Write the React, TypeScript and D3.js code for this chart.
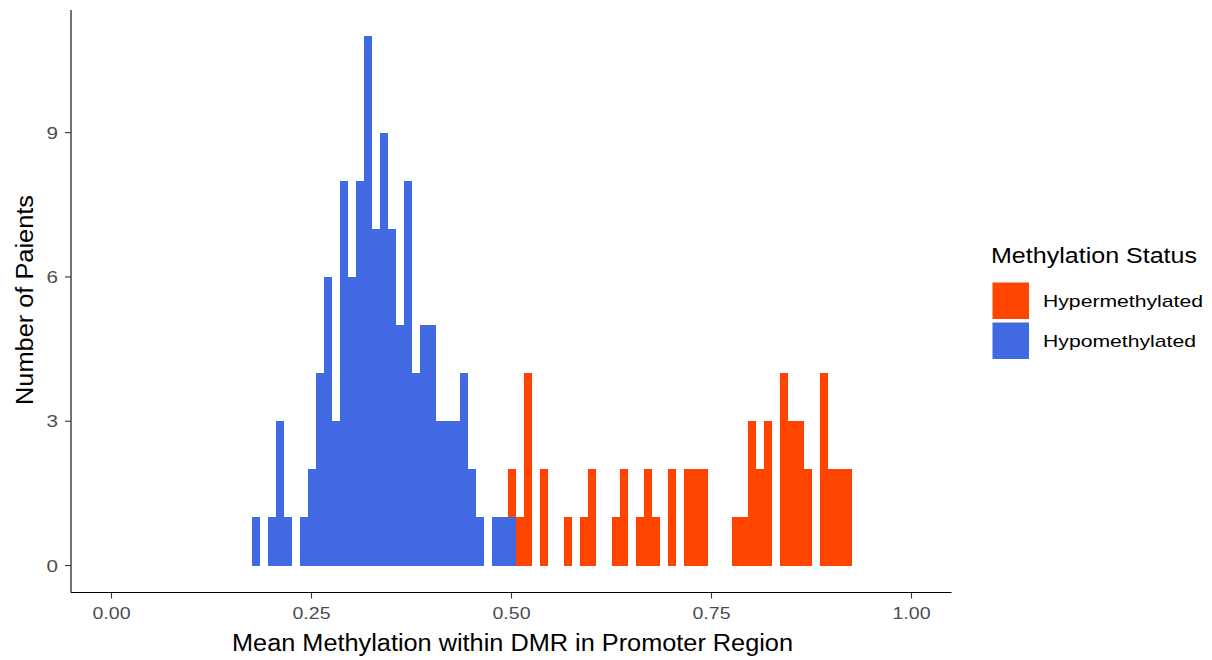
import React from "react";
import * as d3 from "d3";

// histogram bins (centre of each 0.01-wide bin) and counts
const hypoBins = [
  0.18, 0.2, 0.21, 0.22, 0.24, 0.25, 0.26, 0.27, 0.28, 0.29, 0.3, 0.31, 0.32,
  0.33, 0.34, 0.35, 0.36, 0.37, 0.38, 0.39, 0.4, 0.41, 0.42, 0.43, 0.44, 0.45,
  0.46, 0.48, 0.49, 0.5,
];
const hypoCounts = [
  1, 1, 3, 1, 1, 2, 4, 6, 3, 8, 6, 8, 11, 7, 9, 7, 5, 8, 4, 5, 5, 3, 3, 3, 4, 2,
  1, 1, 1, 1,
];
const hyperBins = [
  0.5, 0.51, 0.52, 0.54, 0.57, 0.59, 0.6, 0.63, 0.64, 0.66, 0.67, 0.68, 0.7,
  0.72, 0.73, 0.74, 0.78, 0.79, 0.8, 0.81, 0.82, 0.84, 0.85, 0.86, 0.87, 0.89,
  0.9, 0.91, 0.92,
];
const hyperCounts = [
  1, 1, 4, 2, 1, 1, 2, 1, 2, 1, 2, 1, 2, 2, 2, 2, 1, 1, 3, 2, 3, 4, 3, 3, 2, 4,
  2, 2, 2,
];
const binWidth = 0.01;

const xTicks = [0, 0.25, 0.5, 0.75, 1];
const xTickLabels = ["0.00", "0.25", "0.50", "0.75", "1.00"];
const yTicks = [0, 3, 6, 9];

const seriesKeys = ["Hypomethylated", "Hypermethylated"];
const colors: Record<string, string> = {
  Hypermethylated: "#FF4500",
  Hypomethylated: "#4169E1",
};
const legendOrder = ["Hypermethylated", "Hypomethylated"];

const font = "'Liberation Sans', Arial, sans-serif";

export default function App() {
  const width = 1212;
  const height = 660;
  const left = 71.5;
  const right = 951.5;
  const top = 10;
  const bottom = 592;

  const x = d3.scaleLinear().domain([-0.05, 1.05]).range([left, right]);
  const y = d3.scaleLinear().domain([-0.55, 11.55]).range([bottom, top]);

  // merge both series into one table keyed by bin, then stack
  const table = new Map<number, any>();
  const add = (bins: number[], counts: number[], key: string) => {
    bins.forEach((b, i) => {
      const k = Math.round(b * 100);
      if (!table.has(k))
        table.set(k, { bin: b, Hypomethylated: 0, Hypermethylated: 0 });
      table.get(k)[key] = counts[i];
    });
  };
  add(hypoBins, hypoCounts, "Hypomethylated");
  add(hyperBins, hyperCounts, "Hypermethylated");
  const rows = Array.from(table.values()).sort((a, b) => a.bin - b.bin);
  const stacked = d3.stack().keys(seriesKeys)(rows);

  return (
    <div style={{ position: "absolute", left: 0, top: 0 }}>
      <svg width={width} height={height} style={{ display: "block", background: "#fff" }}>
        {/* bars */}
        {stacked.map((s) => (
          <g key={s.key} fill={colors[s.key]} shapeRendering="crispEdges">
            {s
              .filter((d) => d[1] - d[0] > 0)
              .map((d, i) => (
                <rect
                  key={i}
                  x={x((d.data as any).bin - binWidth / 2)}
                  width={x(binWidth) - x(0)}
                  y={y(d[1])}
                  height={y(d[0]) - y(d[1])}
                />
              ))}
          </g>
        ))}

        {/* axes */}
        <line x1={left - 0.5} x2={left - 0.5} y1={top} y2={bottom + 0.5} stroke="#000" strokeWidth={1.1} />
        <line x1={left - 0.5} x2={right} y1={bottom + 0.5} y2={bottom + 0.5} stroke="#000" strokeWidth={1.1} />

        {xTicks.map((t, i) => (
          <g key={t}>
            <line x1={x(t)} x2={x(t)} y1={bottom + 0.5} y2={bottom + 6.5} stroke="#333" strokeWidth={1.1} />
            <text
              x={x(t)}
              y={619}
              textAnchor="middle"
              fontFamily={font}
              fontSize={17}
              fill="#4D4D4D"
              textLength={38}
              lengthAdjust="spacingAndGlyphs"
            >
              {xTickLabels[i]}
            </text>
          </g>
        ))}

        {yTicks.map((t) => (
          <g key={t}>
            <line x1={left - 6.5} x2={left - 0.5} y1={y(t)} y2={y(t)} stroke="#333" strokeWidth={1.1} />
            <text
              x={58}
              y={y(t)}
              dy="0.36em"
              textAnchor="end"
              fontFamily={font}
              fontSize={17}
              fill="#4D4D4D"
              textLength={11.5}
              lengthAdjust="spacingAndGlyphs"
            >
              {t}
            </text>
          </g>
        ))}

        {/* axis titles */}
        <text
          x={512.5}
          y={651}
          textAnchor="middle"
          fontFamily={font}
          fontSize={23}
          fill="#000"
          textLength={561}
          lengthAdjust="spacingAndGlyphs"
        >
          Mean Methylation within DMR in Promoter Region
        </text>
        <text
          transform={`translate(33, 300) rotate(-90)`}
          textAnchor="middle"
          fontFamily={font}
          fontSize={23}
          fill="#000"
          textLength={210}
          lengthAdjust="spacingAndGlyphs"
        >
          Number of Paients
        </text>

        {/* legend */}
        <text
          x={991}
          y={263}
          fontFamily={font}
          fontSize={22}
          fill="#000"
          textLength={206}
          lengthAdjust="spacingAndGlyphs"
        >
          Methylation Status
        </text>
        {legendOrder.map((k, i) => (
          <g key={k} transform={`translate(992.5, ${282.5 + i * 40})`}>
            <rect width={36.5} height={36.5} fill={colors[k]} />
            <text
              x={50.5}
              y={18.25}
              dy="0.36em"
              fontFamily={font}
              fontSize={17}
              fill="#000"
              textLength={i === 0 ? 160 : 153}
              lengthAdjust="spacingAndGlyphs"
            >
              {k}
            </text>
          </g>
        ))}
      </svg>
    </div>
  );
}
